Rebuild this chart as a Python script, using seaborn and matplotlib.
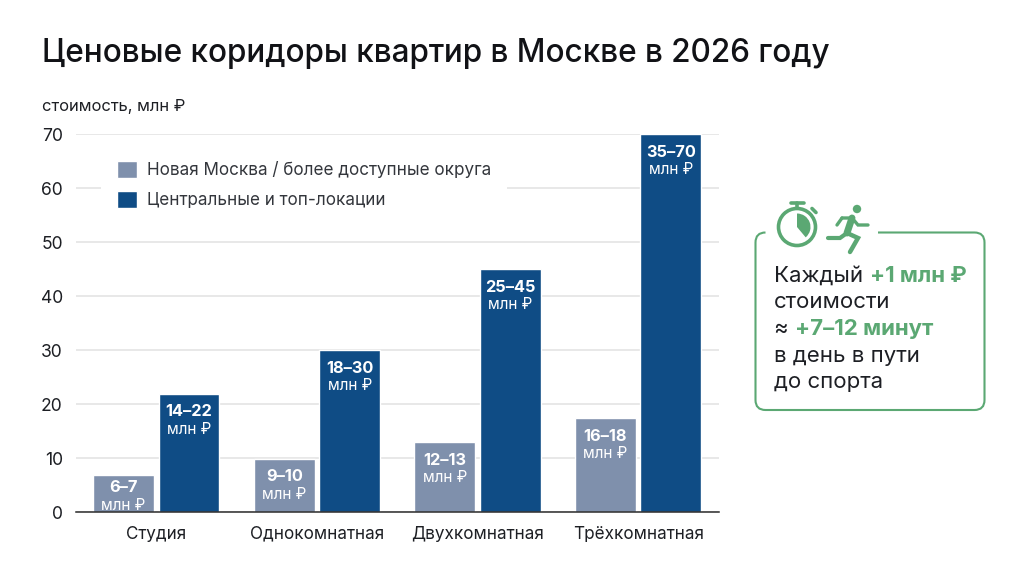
import matplotlib
matplotlib.use("Agg")
import matplotlib.pyplot as plt
import seaborn as sns
import pandas as pd
from matplotlib.patches import Circle, Wedge, PathPatch
from matplotlib.path import Path

categories = ["Студия", "Однокомнатная", "Двухкомнатная", "Трёхкомнатная"]
series_names = ["Новая Москва / более доступные округа", "Центральные и топ-локации"]
affordable = [6.9, 9.9, 13.0, 17.4]
central = [22, 30, 45, 70]
affordable_labels = ["6–7", "9–10", "12–13", "16–18"]
central_labels = ["14–22", "18–30", "25–45", "35–70"]
yticks = [0, 10, 20, 30, 40, 50, 60, 70]

GREY = "#7F90AC"
BLUE = "#0F4C85"
GREEN = "#5BA873"
INK = "#1d1f24"

sns.set_theme(style="white")
plt.rcParams["font.family"] = ["Inter", "DejaVu Sans"]

df = pd.DataFrame({
    "cat": categories * 2,
    "series": [series_names[0]] * 4 + [series_names[1]] * 4,
    "value": affordable + central,
})

W, H = 1024, 572
fig = plt.figure(figsize=(W / 100, H / 100), dpi=100, facecolor="white")
L, R, T, B = 76, 718.5, 134.4, 512.4
ax = fig.add_axes([L / W, 1 - B / H, (R - L) / W, (B - T) / H])
sns.barplot(data=df, x="cat", y="value", hue="series", hue_order=series_names,
            palette=[GREY, BLUE], width=0.815, gap=0.07, saturation=1, ax=ax, legend=True)
ax.set_xlim(-0.5, 3.5)
ax.set_ylim(0, 70)
ax.set_yticks(yticks)
ax.set_xlabel("")
ax.set_ylabel("")
ax.set_axisbelow(True)
ax.grid(axis="y", color="#e2e2e2", lw=1.1)
ax.grid(axis="x", visible=False)
for s in ["top", "left", "right"]:
    ax.spines[s].set_visible(False)
ax.spines["bottom"].set_color("#2b2b2b")
ax.spines["bottom"].set_linewidth(1.1)
ax.tick_params(axis="y", length=0, pad=9.5, labelsize=12.6, labelcolor=INK)
ax.tick_params(axis="x", length=0, pad=9.5, labelsize=12.3, labelcolor=INK)

leg = ax.legend(loc="upper left", bbox_to_anchor=((101 - L) / (R - L), 1 - (145 - T) / (B - T)),
                frameon=True, framealpha=1, facecolor="white", edgecolor="none", fancybox=False,
                fontsize=12.3, handlelength=1.18, handleheight=1.18, handletextpad=0.55,
                labelspacing=0.65, borderaxespad=0, borderpad=0.94)
for t in leg.get_texts():
    t.set_color("#33363c")

for cont, vals, labs in zip(ax.containers, [affordable, central],
                            [affordable_labels, central_labels]):
    for bar, v, lab in zip(cont, vals, labs):
        xc = bar.get_x() + bar.get_width() / 2
        # the shortest bar has its label squeezed towards the top edge
        top_px = 12.5 if v < 8 else 18
        ax.annotate(lab, (xc, v), xytext=(0, -top_px * 0.72), textcoords="offset points",
                    ha="center", va="center", color="white", fontsize=11.8, fontweight="bold")
        ax.annotate("млн ₽", (xc, v), xytext=(0, -(top_px + 17.5) * 0.72), textcoords="offset points",
                    ha="center", va="center", color="white", fontsize=11)

# overlay in pixel coordinates for title and side card
ov = fig.add_axes([0, 0, 1, 1], facecolor="none")
ov.set_xlim(0, W)
ov.set_ylim(H, 0)
ov.axis("off")
ov.text(42, 62, "Ценовые коридоры квартир в Москве в 2026 году", fontsize=22.7,
        fontweight="medium", color="#111216", va="baseline")
ov.text(42, 111, "стоимость, млн ₽", fontsize=11.9, color=INK, va="baseline")

x0, x1, y0, y1, r = 755.5, 984.5, 232.5, 410, 10
verts = [(878, y0), (x1 - r, y0), (x1, y0), (x1, y0 + r), (x1, y1 - r), (x1, y1), (x1 - r, y1),
         (x0 + r, y1), (x0, y1), (x0, y1 - r), (x0, y0 + r), (x0, y0), (x0 + r, y0)]
codes = [Path.MOVETO, Path.LINETO, Path.CURVE3, Path.CURVE3, Path.LINETO, Path.CURVE3, Path.CURVE3,
         Path.LINETO, Path.CURVE3, Path.CURVE3, Path.LINETO, Path.CURVE3, Path.CURVE3]
ov.add_patch(PathPatch(Path(verts, codes), fc="none", ec=GREEN, lw=1.5))

# stopwatch
cx, cy = 797, 227
ov.add_patch(Circle((cx, cy), 18.5, fc="none", ec=GREEN, lw=2.6))
ov.add_patch(Wedge((cx, cy), 13.5, -90, 50, fc=GREEN, ec="none"))
ov.plot([791, 804], [203, 203], color=GREEN, lw=2.6, solid_capstyle="round")
ov.plot([797, 797], [203, 208], color=GREEN, lw=2.6)
ov.plot([812, 816], [208.5, 212.5], color=GREEN, lw=2.6, solid_capstyle="round")

# runner
ov.add_patch(Circle((857, 209), 4.2, fc=GREEN, ec="none"))
for xs, ys, w in [([852, 847], [218, 233], 5.0),
                  ([842, 852, 858, 868], [218, 218, 225, 225], 2.4),
                  ([842, 837], [218, 225], 2.4),
                  ([847, 858, 850], [233, 238, 252], 3.2),
                  ([847, 840, 828], [233, 238, 238], 3.0)]:
    ov.plot(xs, ys, color=GREEN, lw=w, solid_capstyle="round", solid_joinstyle="miter")

fs = 16
ov.text(773.5, 282, "Каждый", fontsize=fs, color=INK, va="baseline")
ov.text(870, 282, "+1 млн ₽", fontsize=fs, color=GREEN, fontweight="bold", va="baseline")
ov.text(773.5, 308, "стоимости", fontsize=fs, color=INK, va="baseline")
ov.text(773.5, 335, "≈", fontsize=fs, color=INK, va="baseline")
ov.text(795, 335, "+7–12 минут", fontsize=fs, color=GREEN, fontweight="bold", va="baseline")
ov.text(773.5, 362, "в день в пути", fontsize=fs, color=INK, va="baseline")
ov.text(773.5, 388, "до спорта", fontsize=fs, color=INK, va="baseline")

fig.savefig("out.png", dpi=100, facecolor="white")
